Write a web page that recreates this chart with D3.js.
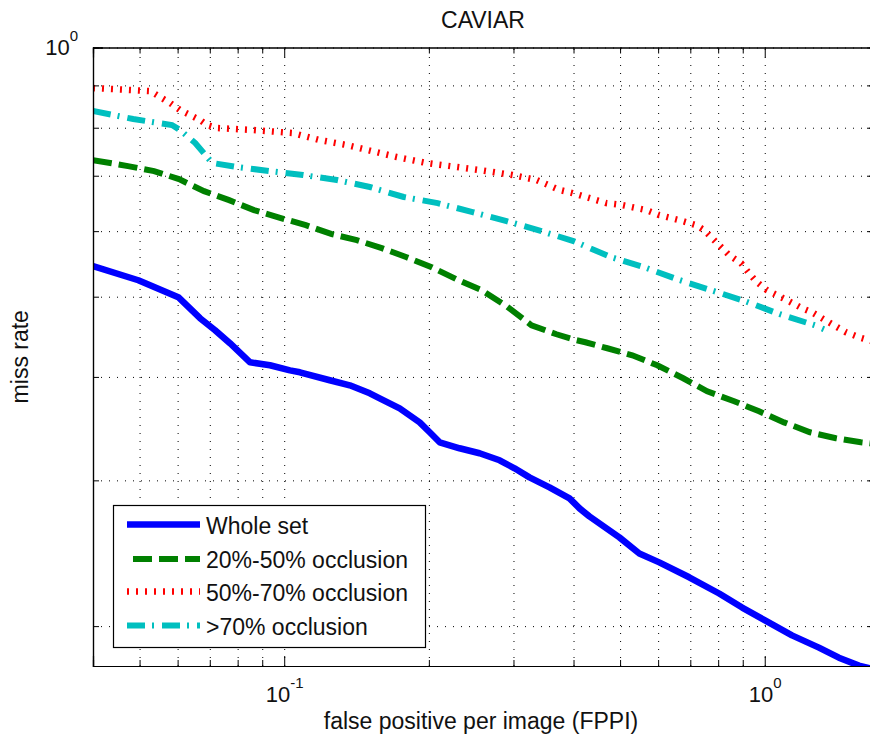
<!DOCTYPE html>
<html>
<head>
<meta charset="utf-8">
<script src="https://cdn.jsdelivr.net/npm/d3@7"></script>
<style>
  body { margin: 0; background: #fff; }
  svg { display: block; font-family: "Liberation Sans", Arial, sans-serif; }
</style>
</head>
<body>
<svg id="chart" width="870" height="742"></svg>
<script>
// axis limits and ticks (log-log, MATLAB style)
var xLimits = [0.04, 1.68];
var yLimits = [0.179, 1];
var xTicksMajor = [0.1, 1];
var xTicksMinor = [0.04, 0.05, 0.06, 0.07, 0.08, 0.09, 0.2, 0.3, 0.4, 0.5, 0.6, 0.7, 0.8, 0.9];
var yTicksMajor = [1];
var yTicksMinor = [0.2, 0.3, 0.4, 0.5, 0.6, 0.7, 0.8, 0.9];
var xTickLabels = [["10", "-1"], ["10", "0"]];
var yTickLabels = [["10", "0"]];

// series (FPPI, miss rate)
var seriesNames = ["Whole set", "20%-50% occlusion", "50%-70% occlusion", ">70% occlusion"];

var wholeFppi = [0.0400, 0.0497, 0.0602, 0.0668, 0.0718, 0.0771, 0.0849, 0.0934, 0.1028, 0.1078,
  0.1244, 0.1369, 0.1507, 0.1580, 0.1739, 0.1914, 0.2008, 0.2106, 0.2317, 0.2550, 0.2807, 0.3015,
  0.3239, 0.3565, 0.3924, 0.4117, 0.4316, 0.4983, 0.5483, 0.6032, 0.6963, 0.8038, 0.8974, 1.0014,
  1.1395, 1.2965, 1.4267, 1.5703, 1.7282];
var wholeMiss = [0.5443, 0.5234, 0.4993, 0.4710, 0.4555, 0.4393, 0.4166, 0.4132, 0.4074, 0.4052,
  0.3963, 0.3908, 0.3822, 0.3769, 0.3665, 0.3525, 0.3429, 0.3335, 0.3280, 0.3235, 0.3172, 0.3102,
  0.3025, 0.2942, 0.2853, 0.2775, 0.2714, 0.2560, 0.2448, 0.2388, 0.2291, 0.2190, 0.2106, 0.2032,
  0.1949, 0.1884, 0.1832, 0.1792, 0.1768];

var occ2050Fppi = [0.0400, 0.0473, 0.0536, 0.0604, 0.0681, 0.0768, 0.0865, 0.0984, 0.1109, 0.1256,
  0.1416, 0.1596, 0.1798, 0.2027, 0.2284, 0.2575, 0.2902, 0.3270, 0.3686, 0.4055, 0.4234, 0.4703,
  0.5301, 0.5975, 0.6766, 0.7590, 0.8637, 0.9731, 1.0968, 1.2421, 1.4064, 1.5849, 1.7282];
var occ2050Miss = [0.7311, 0.7190, 0.7090, 0.6934, 0.6706, 0.6540, 0.6362, 0.6222, 0.6101, 0.5950,
  0.5852, 0.5723, 0.5580, 0.5427, 0.5248, 0.5091, 0.4870, 0.4618, 0.4504, 0.4430, 0.4405, 0.4332,
  0.4248, 0.4131, 0.3985, 0.3843, 0.3738, 0.3635, 0.3525, 0.3429, 0.3373, 0.3335, 0.3316];

var occ5070Fppi = [0.0400, 0.0526, 0.0552, 0.0579, 0.0607, 0.0637, 0.0668, 0.0691, 0.0725, 0.0861,
  0.1042, 0.1186, 0.1350, 0.1714, 0.1979, 0.2550, 0.2987, 0.3350, 0.3740, 0.3981, 0.4682, 0.5055,
  0.5669, 0.6032, 0.6637, 0.7200, 0.7482, 0.7773, 0.8116, 0.8433, 0.8931, 0.9277, 0.9639, 1.0110,
  1.0607, 1.1125, 1.1956, 1.2537, 1.3152, 1.3930, 1.4754, 1.5703, 1.6473, 1.7282];
var occ5070Miss = [0.8934, 0.8859, 0.8712, 0.8568, 0.8403, 0.8287, 0.8173, 0.8060, 0.7993, 0.7949,
  0.7883, 0.7731, 0.7624, 0.7374, 0.7252, 0.7112, 0.7014, 0.6917, 0.6729, 0.6671, 0.6486, 0.6451,
  0.6362, 0.6274, 0.6187, 0.6101, 0.6017, 0.5884, 0.5739, 0.5612, 0.5487, 0.5337, 0.5205, 0.5091,
  0.5021, 0.4952, 0.4843, 0.4789, 0.4710, 0.4618, 0.4530, 0.4467, 0.4430, 0.4393];

var occ70Fppi = [0.0400, 0.0485, 0.0584, 0.0607, 0.0653, 0.0708, 0.0798, 0.0934, 0.1094, 0.1287,
  0.1507, 0.1773, 0.2086, 0.2466, 0.2902, 0.3431, 0.3999, 0.4796, 0.5615, 0.6574, 0.7736, 0.9104,
  1.0760, 1.2719, 1.3279];
var occ70Miss = [0.8380, 0.8196, 0.8060, 0.7949, 0.7667, 0.7252, 0.7172, 0.7090, 0.7014, 0.6917,
  0.6784, 0.6598, 0.6486, 0.6327, 0.6170, 0.6000, 0.5836, 0.5580, 0.5427, 0.5248, 0.5091, 0.4938,
  0.4762, 0.4618, 0.4568];

var series = [
  { name: seriesNames[0], xs: wholeFppi, ys: wholeMiss, color: "#0000ff", width: 6.5, dash: null },
  { name: seriesNames[1], xs: occ2050Fppi, ys: occ2050Miss, color: "#008000", width: 6, dash: "19,7" },
  { name: seriesNames[2], xs: occ5070Fppi, ys: occ5070Miss, color: "#ff0000", width: 6.5, dash: "2,7" },
  { name: seriesNames[3], xs: occ70Fppi, ys: occ70Miss, color: "#00bfbf", width: 6, dash: "18,7,2,8" }
];

var plotLeft = 93, plotRight = 873, plotTop = 47.5, plotBottom = 666;
var svg = d3.select("#chart");
svg.append("rect").attr("width", 870).attr("height", 742).attr("fill", "#fff");

var x = d3.scaleLog().domain(xLimits).range([plotLeft, plotRight]);
var y = d3.scaleLog().domain(yLimits).range([plotBottom, plotTop]);

// dotted grid
var allX = xTicksMinor.concat(xTicksMajor);
var allY = yTicksMinor.concat(yTicksMajor);
var gridX = svg.append("g").attr("transform", "translate(0," + plotBottom + ")")
  .call(d3.axisBottom(x).tickValues(allX).tickSize(-(plotBottom - plotTop)).tickFormat(""));
var gridY = svg.append("g").attr("transform", "translate(" + plotLeft + ",0)")
  .call(d3.axisLeft(y).tickValues(allY).tickSize(-(plotRight - plotLeft)).tickFormat(""));
[gridX, gridY].forEach(function(g) {
  g.select(".domain").remove();
  g.selectAll("line").attr("stroke", "#000").attr("stroke-width", 1).attr("stroke-dasharray", "1,7");
});

// curves
svg.append("clipPath").attr("id", "plotclip")
  .append("rect").attr("x", plotLeft).attr("y", plotTop)
  .attr("width", plotRight - plotLeft).attr("height", plotBottom - plotTop);

var line = d3.line().x(function(d) { return x(d[0]); }).y(function(d) { return y(d[1]); });
var curves = svg.append("g").attr("clip-path", "url(#plotclip)");
series.forEach(function(s) {
  var pts = s.xs.map(function(v, i) { return [v, s.ys[i]]; });
  curves.append("path").datum(pts)
    .attr("d", line)
    .attr("fill", "none")
    .attr("stroke", s.color)
    .attr("stroke-width", s.width)
    .attr("stroke-linejoin", s.dash ? "miter" : "round")
    .attr("stroke-dasharray", s.dash);
});

// axes with inward ticks
function styleAxis(g) {
  g.selectAll("line").attr("stroke", "#000");
  g.select(".domain").attr("stroke", "#000").attr("stroke-width", 1.2);
}
function supLabels(sel, labels) {
  sel.selectAll(".tick text").each(function(d, i) {
    var t = d3.select(this).text("");
    t.append("tspan").text(labels[i][0]);
    t.append("tspan").attr("dy", -14).attr("font-size", 15).text(labels[i][1]);
  });
}

svg.append("g").attr("transform", "translate(0," + plotBottom + ")")
  .call(d3.axisBottom(x).tickValues(xTicksMinor).tickSize(-6).tickFormat("")).call(styleAxis);
var xMaj = svg.append("g").attr("transform", "translate(0," + plotBottom + ")")
  .call(d3.axisBottom(x).tickValues(xTicksMajor).tickSize(-10).tickPadding(20))
  .call(styleAxis);
xMaj.selectAll("text").attr("font-size", 22).attr("fill", "#111");
xMaj.attr("font-family", null);
supLabels(xMaj, xTickLabels);

svg.append("g").attr("transform", "translate(0," + plotTop + ")")
  .call(d3.axisTop(x).tickValues(xTicksMinor).tickSize(-6).tickFormat("")).call(styleAxis);
svg.append("g").attr("transform", "translate(0," + plotTop + ")")
  .call(d3.axisTop(x).tickValues(xTicksMajor).tickSize(-10).tickFormat("")).call(styleAxis);

svg.append("g").attr("transform", "translate(" + plotLeft + ",0)")
  .call(d3.axisLeft(y).tickValues(yTicksMinor).tickSize(-6).tickFormat("")).call(styleAxis);
var yMaj = svg.append("g").attr("transform", "translate(" + plotLeft + ",0)")
  .call(d3.axisLeft(y).tickValues(yTicksMajor).tickSize(-10).tickPadding(15))
  .call(styleAxis);
yMaj.selectAll("text").attr("font-size", 22).attr("fill", "#111");
yMaj.attr("font-family", null);
supLabels(yMaj, yTickLabels);

svg.append("g").attr("transform", "translate(" + plotRight + ",0)")
  .call(d3.axisRight(y).tickValues(yTicksMinor).tickSize(-6).tickFormat("")).call(styleAxis);

// titles
svg.append("text").attr("x", (plotLeft + plotRight) / 2).attr("y", 28)
  .attr("text-anchor", "middle").attr("font-size", 23).attr("fill", "#111").text("CAVIAR");
svg.append("text").attr("x", 481).attr("y", 729)
  .attr("text-anchor", "middle").attr("font-size", 23).attr("fill", "#111")
  .text("false positive per image (FPPI)");
svg.append("text").attr("transform", "translate(28," + (plotTop + plotBottom) / 2 + ") rotate(-90)")
  .attr("text-anchor", "middle").attr("font-size", 23).attr("fill", "#111").text("miss rate");

// legend
var legend = svg.append("g");
legend.append("rect").attr("x", 113.5).attr("y", 505.5).attr("width", 312).attr("height", 142)
  .attr("fill", "#fff").attr("stroke", "#000").attr("stroke-width", 1.2);
var rowY = [524.5, 559, 591.5, 625.5];
series.forEach(function(s, i) {
  legend.append("line")
    .attr("x1", 127).attr("x2", 200).attr("y1", rowY[i]).attr("y2", rowY[i])
    .attr("stroke", s.color).attr("stroke-width", s.width)
    .attr("stroke-dasharray", s.dash)
    .attr("stroke-dashoffset", i === 1 ? 20 : 0);
  legend.append("text").attr("x", 206).attr("y", rowY[i] + 9)
    .attr("font-size", 23).attr("fill", "#111").text(s.name);
});
</script>
</body>
</html>
